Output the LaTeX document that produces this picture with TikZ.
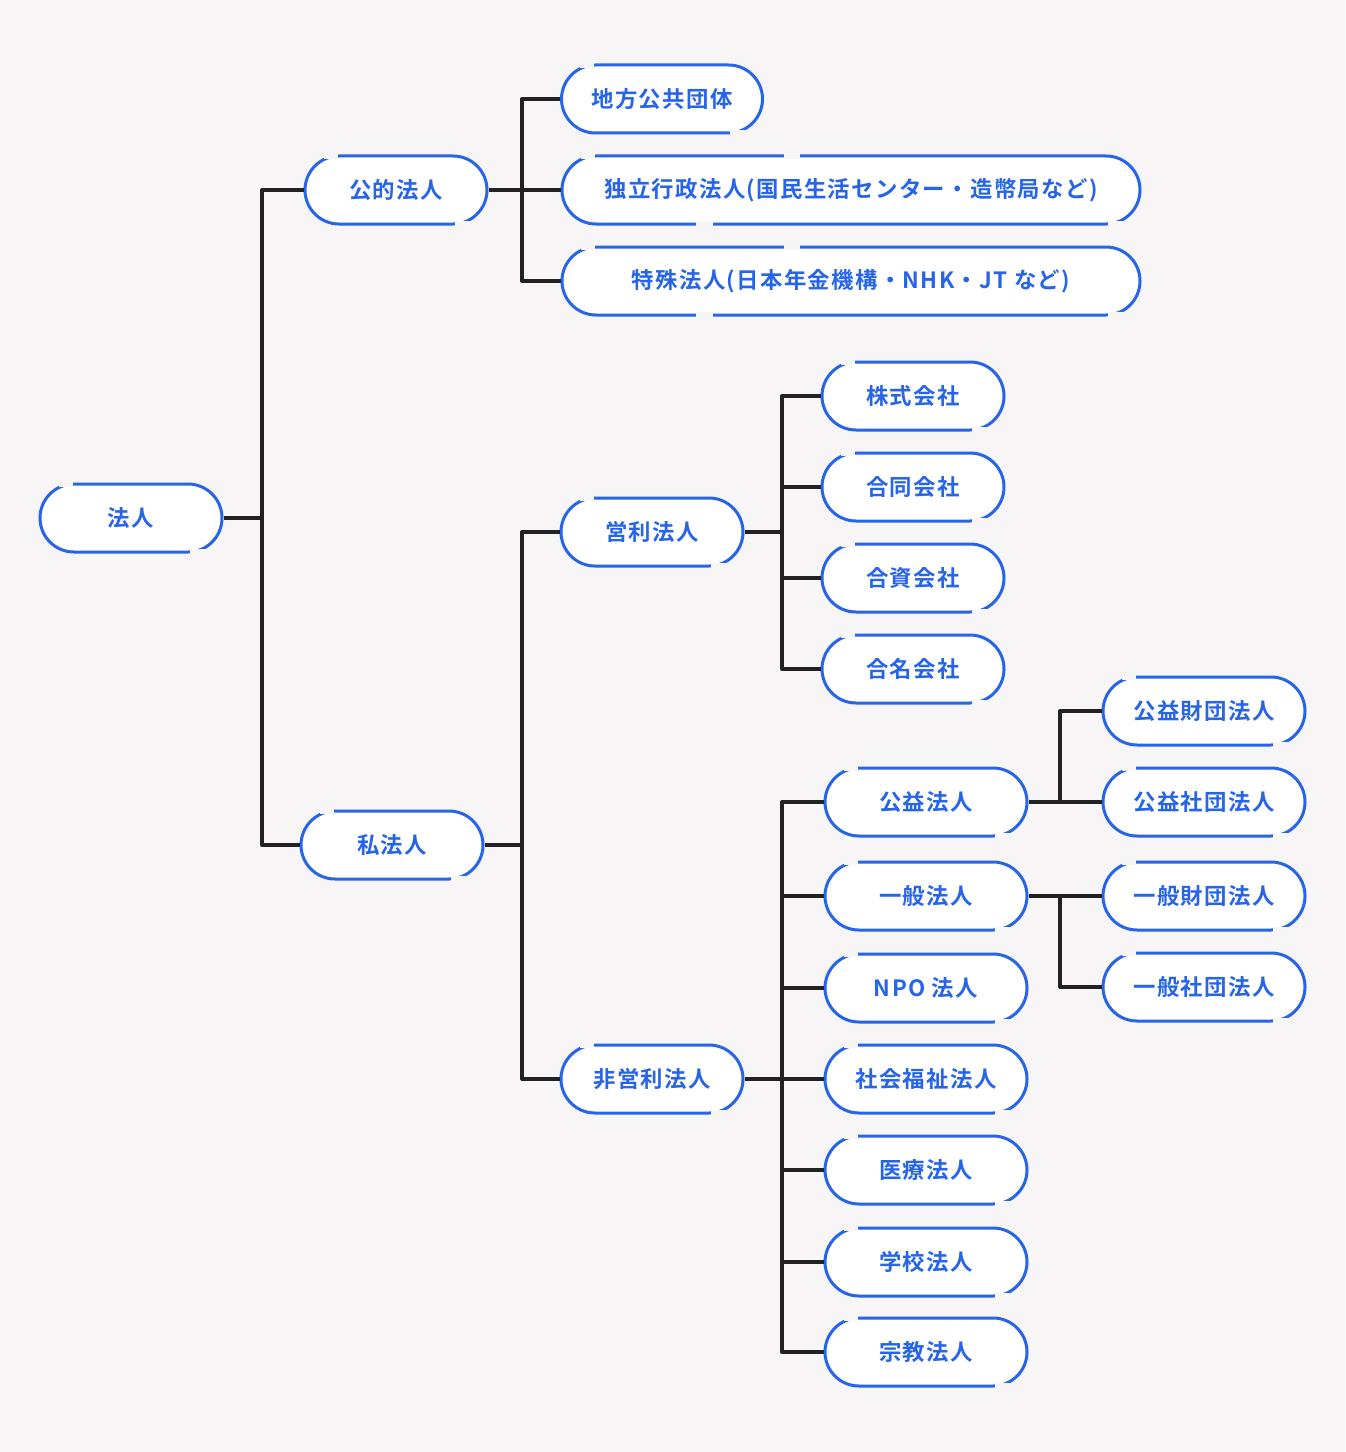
\documentclass[tikz,border=0pt]{standalone}
\usepackage{fontspec}
\usepackage{xcolor}
\usepackage{tikz}
\usetikzlibrary{calc}
\usetikzlibrary{positioning, shapes.misc}
\newfontfamily\jpfont{Noto Sans CJK JP}[BoldFont={Noto Sans CJK JP Bold}, LetterSpace=6]
\definecolor{PaperGray}{RGB}{247, 245, 246}
\definecolor{BoxBlue}{RGB}{38, 100, 234}
\definecolor{LineDark}{RGB}{34, 34, 36}
\tikzset{
	box/.style={rounded rectangle, draw=BoxBlue, fill=white, line width=2.25pt,
		minimum height=51pt, minimum width=#1*0.75pt, inner sep=0pt,
		text=BoxBlue, font=\jpfont\bfseries\fontsize{16.8}{18}\selectfont},
	box/.default=182,
	conn/.style={draw=LineDark, line width=3pt, line join=round},
	gap/.style={draw=PaperGray, line width=4pt},
}
% gaps in the outline, top left and bottom right
\newcommand{\boxgaps}[1]{%
	\draw[gap] ($(#1.north -| #1.west)+(20,2)$) -- ++(14,0);
	\draw[gap] ($(#1.south -| #1.east)+(-34,-2)$) -- ++(15,0);
}
\newcommand{\widegaps}[1]{%
	\draw[gap] ($(#1.north -| #1.west)+(223,2)$) -- ++(16,0);
	\draw[gap] ($(#1.south -| #1.west)+(135,-2)$) -- ++(17,0);
}
\begin{document}
\begin{tikzpicture}[x=0.75pt, y=-0.75pt]
	\fill[PaperGray] (0,0) rectangle (1345,1452);
	\useasboundingbox (0,0) rectangle (1345,1452);

	% connectors first
	\coordinate (j0) at (262,518);
	\coordinate (j1) at (522,190);
	\coordinate (j2) at (522,845);
	\coordinate (j3) at (782,532);
	\coordinate (j4) at (782,1079);
	\coordinate (j5) at (1060,802);
	\coordinate (j6) at (1060,896);

	% nodes
	\node[box] (hojin) at (131,518) {法人};
	\node[box] (koteki) at (396,190) {公的法人};
	\node[box] (shi) at (392,845) {私法人};

	\node[box=201] (chiho) at (662,99) {地方公共団体};
	\node[box=578] (dokuritsu) at (851,190) {独立行政法人(国民生活センター・造幣局など)};
	\node[box=578] (tokushu) at (851,281) {特殊法人(日本年金機構・NHK・JT など)};

	\node[box] (eiri) at (652,532) {営利法人};
	\node[box] (hieiri) at (652,1079) {非営利法人};

	\node[box] (kabushiki) at (913,396) {株式会社};
	\node[box] (godo) at (913,487) {合同会社};
	\node[box] (goshi) at (913,578) {合資会社};
	\node[box] (gomei) at (913,669) {合名会社};

	\node[box=202] (koeki) at (926,802) {公益法人};
	\node[box=202] (ippan) at (926,896) {一般法人};
	\node[box=202] (npo) at (926,988) {NPO 法人};
	\node[box=202] (fukushi) at (926,1079) {社会福祉法人};
	\node[box=202] (iryo) at (926,1170) {医療法人};
	\node[box=202] (gakko) at (926,1262) {学校法人};
	\node[box=202] (shukyo) at (926,1352) {宗教法人};

	\node[box=202] (kzaidan) at (1204,711) {公益財団法人};
	\node[box=202] (kshadan) at (1204,802) {公益社団法人};
	\node[box=202] (izaidan) at (1204,896) {一般財団法人};
	\node[box=202] (ishadan) at (1204,987) {一般社団法人};

	\foreach \n in {hojin,koteki,shi,chiho,dokuritsu,tokushu,eiri,hieiri,kabushiki,godo,goshi,gomei,koeki,ippan,npo,fukushi,iryo,gakko,shukyo,kzaidan,kshadan,izaidan,ishadan}
		{\boxgaps{\n}}
	\widegaps{dokuritsu}
	\widegaps{tokushu}

	\draw[conn] (hojin.east) -- (j0);
	\foreach \c in {koteki,shi}
		\draw[conn] (j0) |- (\c.west);
	\draw[conn] (koteki.east) -- (j1);
	\foreach \c in {chiho,dokuritsu,tokushu}
		\draw[conn] (j1) |- (\c.west);
	\draw[conn] (shi.east) -- (j2);
	\foreach \c in {eiri,hieiri}
		\draw[conn] (j2) |- (\c.west);
	\draw[conn] (eiri.east) -- (j3);
	\foreach \c in {kabushiki,godo,goshi,gomei}
		\draw[conn] (j3) |- (\c.west);
	\draw[conn] (hieiri.east) -- (j4);
	\foreach \c in {koeki,ippan,npo,fukushi,iryo,gakko,shukyo}
		\draw[conn] (j4) |- (\c.west);
	\draw[conn] (koeki.east) -- (j5);
	\foreach \c in {kzaidan,kshadan}
		\draw[conn] (j5) |- (\c.west);
	\draw[conn] (ippan.east) -- (j6);
	\foreach \c in {izaidan,ishadan}
		\draw[conn] (j6) |- (\c.west);
\end{tikzpicture}
\end{document}
